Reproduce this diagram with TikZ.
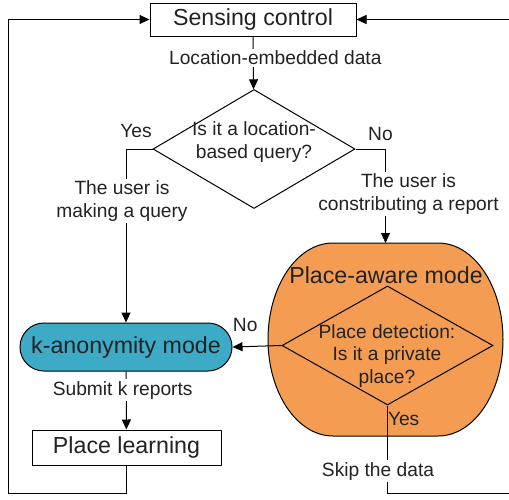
\documentclass[tikz,border=0pt]{standalone}
\usepackage{fontspec}
\setmainfont{Liberation Sans}
\usetikzlibrary{shapes.geometric,arrows.meta,positioning}
\definecolor{awareorange}{HTML}{F49D52}
\definecolor{anonteal}{HTML}{3DAAC6}
\definecolor{inkgray}{HTML}{222222}
\newcommand{\flowbig}{\fontsize{11.6}{13.9}\selectfont}
\newcommand{\flowsmall}{\fontsize{9.6}{11.3}\selectfont}
\tikzstyle{privacy flow}=[
    x=0.5pt, y=-0.5pt, line width=0.5pt,
    >={Triangle[length=5pt,width=4.5pt]},
    every node/.style={text=inkgray, font=\flowsmall},
    process/.style={draw, fill=white, inner sep=0pt, font=\flowbig},
    decision/.style={draw, diamond, inner sep=0pt},
    anonmode/.style={draw, fill=anonteal, rounded corners=12pt, inner sep=0pt, font=\flowbig},
    awaremode/.style={draw, fill=awareorange},
    edgelabel/.style={fill=white, inner sep=1pt, align=center},
]

\begin{document}
\begin{tikzpicture}[privacy flow]
        \useasboundingbox (0,0) rectangle (509,499);
        \node[process, minimum width=103pt, minimum height=16.5pt] (sense) at (253,19.5) {Sensing control};
        \node[decision, minimum width=101pt, minimum height=59.5pt] (query) at (254,149) {};
        \node[align=center] (querytext) at (254,142) {Is it a location-\\based query?};

        % place-aware area: flat top and bottom, half-ellipse ends
        \coordinate (awaretop) at (385.5,243);
        \draw[awaremode] (333,243) -- (438,243)
            arc[start angle=90, end angle=-90, x radius=32.5pt, y radius=48.25pt]
            -- (333,436)
            arc[start angle=270, end angle=90, x radius=32.5pt, y radius=48.25pt] -- cycle;
        \node[font=\flowbig] (awaretitle) at (386,275) {Place-aware mode};
        \node[decision, minimum width=105.5pt, minimum height=59.5pt] (private) at (387.5,345.5) {};
        \node[align=center] (privatetext) at (387,356) {Place detection:\\Is it a private\\place?};

        \node[anonmode, minimum width=106pt, minimum height=24pt] (kanon) at (126,347) {k-anonymity mode};
        \node[process, minimum width=94.5pt, minimum height=17.5pt] (learn) at (126.5,447.5) {Place learning};

        \coordinate (loopleft) at (8,493);
        \coordinate (loopright) at (510.5,493);

        \draw[->] (sense) -- node[edgelabel, pos=0.4, xshift=11pt] {Location-embedded data} (query);
        \draw[->] (query.west) -- node[pos=1, above=2.3pt, xshift=5pt] {Yes} (kanon.north |- query.west)
            -- node[edgelabel, pos=0.3, xshift=-2pt] {The user is\\making a query} (kanon.north);
        \draw[->] (query.east) -- node[pos=1, above=0.8pt, xshift=-2.5pt] {No} (awaretop |- query.east)
            -- node[edgelabel, pos=0.48, xshift=11.5pt] {The user is\\constributing a report} (awaretop);
        \draw[->] (private.west) -- node[pos=0.74, above=4pt] {No} (kanon.east);
        \draw[->] (kanon) -- node[edgelabel, pos=0.32, xshift=-1.75pt] {Submit k reports} (learn);

        % loops back to the sensing control
        \draw[->] (learn.south) -- (learn.south |- loopleft) -- (loopleft) -- (loopleft |- sense.west) -- (sense.west);
        \draw[->] (private.south) -- node[pos=0.15, right, inner sep=0pt] {Yes}
            node[edgelabel, pos=0.75, xshift=-4.75pt] {Skip the data} (private.south |- loopright)
            -- (loopright) -- (loopright |- sense.east) -- (sense.east);
    \end{tikzpicture}
\end{document}
